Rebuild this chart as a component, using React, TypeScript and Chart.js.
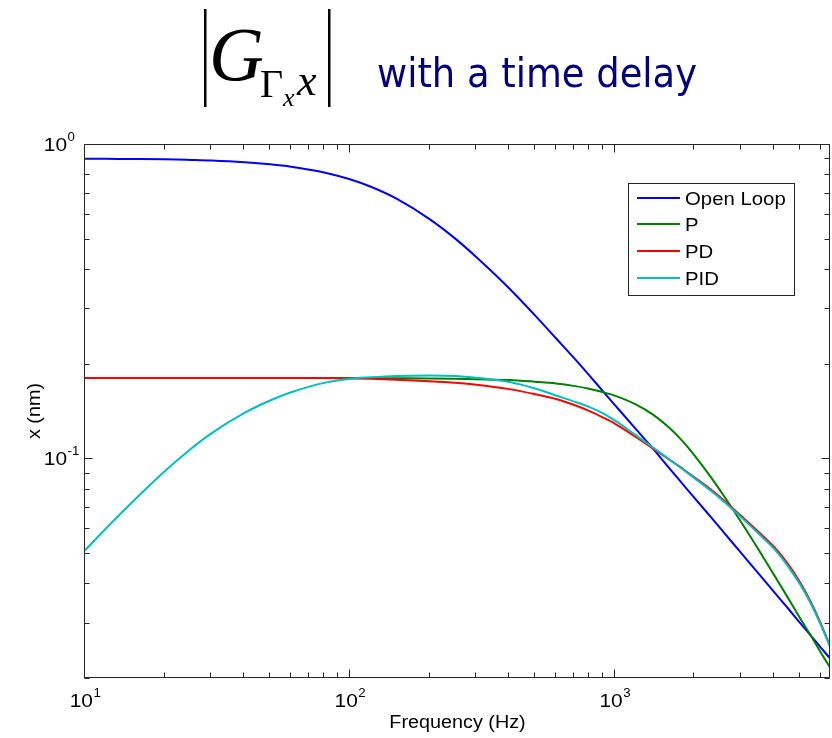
import React, { useEffect, useRef } from "react";
import { Chart, registerables } from "chart.js";
Chart.register(...registerables);

// ---- data ----
const freqs = [10, 12, 15, 20, 25, 30, 40, 50, 60, 80, 100, 120, 150, 200, 250, 300, 400, 500, 600, 700, 800, 900, 1000, 1200, 1400, 1600, 1800, 2000, 2300, 2600, 3000, 3500, 4000, 4500, 5000, 5500, 6000, 6500];
const openLoop = [0.898, 0.897, 0.896, 0.894, 0.890, 0.886, 0.875, 0.862, 0.847, 0.812, 0.772, 0.731, 0.670, 0.577, 0.500, 0.437, 0.347, 0.285, 0.241, 0.209, 0.184, 0.164, 0.148, 0.124, 0.107, 0.0934, 0.0831, 0.0748, 0.0652, 0.0577, 0.0500, 0.0429, 0.0375, 0.0334, 0.0300, 0.0273, 0.0250, 0.0231];
const pCtrl = [0.180, 0.180, 0.180, 0.180, 0.180, 0.180, 0.180, 0.180, 0.180, 0.180, 0.180, 0.180, 0.1798, 0.1795, 0.179, 0.1785, 0.1775, 0.1752, 0.1730, 0.1700, 0.1665, 0.1625, 0.1583, 0.1485, 0.1375, 0.1255, 0.1136, 0.1022, 0.0874, 0.0753, 0.0627, 0.0511, 0.0425, 0.0361, 0.0311, 0.0273, 0.0241, 0.0216];
const pdCtrl = [0.180, 0.180, 0.180, 0.180, 0.180, 0.180, 0.180, 0.180, 0.180, 0.180, 0.1795, 0.179, 0.1778, 0.1758, 0.1738, 0.1715, 0.1660, 0.1600, 0.1545, 0.1480, 0.1415, 0.1350, 0.1290, 0.1170, 0.1072, 0.0993, 0.0928, 0.0870, 0.0797, 0.0732, 0.0656, 0.0582, 0.0522, 0.0462, 0.0404, 0.0349, 0.0298, 0.0253];
const pidCtrl = [0.051, 0.0598, 0.0722, 0.0909, 0.1068, 0.1200, 0.1394, 0.1527, 0.1622, 0.1738, 0.1790, 0.1810, 0.1828, 0.1835, 0.1828, 0.1805, 0.1748, 0.1668, 0.1585, 0.1518, 0.1458, 0.1392, 0.1320, 0.1185, 0.1080, 0.0995, 0.0925, 0.0865, 0.0790, 0.0725, 0.0650, 0.0575, 0.0515, 0.0455, 0.0398, 0.0345, 0.0295, 0.0252];

const seriesNames = ["Open Loop", "P", "PD", "PID"];
const seriesColors = ["#0000ff", "#008000", "#ff0000", "#00bfbf"];
const xTickDecades = [10, 100, 1000];
const yTickDecades = [1, 0.1];
const xMin = 10;
const xMax = 6500;
const yMin = 0.02;
const yMax = 1;
const titleText = "with a time delay";
const xAxisLabel = "Frequency (Hz)";
const yAxisLabel = "x (nm)";

const SANS = '"Liberation Sans", Arial, Helvetica, sans-serif';
const SERIF = '"Liberation Serif", "Times New Roman", serif';
const SX = 1.1;
const AXIS_COLOR = "#262626";

function txt(ctx: CanvasRenderingContext2D, s: string, x: number, y: number, font: string, align: CanvasTextAlign = "left", color = "#000", sx = SX) {
  ctx.save();
  ctx.font = font;
  ctx.fillStyle = color;
  ctx.textAlign = align;
  ctx.textBaseline = "alphabetic";
  ctx.translate(x, y);
  ctx.scale(sx, 1);
  ctx.fillText(s, 0, 0);
  ctx.restore();
}

function measure(ctx: CanvasRenderingContext2D, s: string, font: string) {
  ctx.save();
  ctx.font = font;
  const w = ctx.measureText(s).width;
  ctx.restore();
  return w;
}

const BASE_FONT = `19px ${SANS}`;
const EXP_FONT = `12px ${SANS}`;

function minorValues(lo: number, hi: number) {
  const out: { v: number; major: boolean }[] = [];
  const minD = Math.floor(Math.log10(lo));
  const maxD = Math.ceil(Math.log10(hi));
  for (let d = minD; d <= maxD; d++) {
    for (let k = 1; k <= 9; k++) {
      const v = k * Math.pow(10, d);
      if (v >= lo * 0.9999 && v <= hi * 1.0001) out.push({ v, major: k === 1 });
    }
  }
  return out;
}

const decor = {
  id: "decor",
  afterDraw(chart: any) {
    const ctx: CanvasRenderingContext2D = chart.ctx;
    const a = chart.chartArea;
    const xs = chart.scales.x;
    const ys = chart.scales.y;
    ctx.save();

    // frame
    const L = Math.round(a.left) - 0.5;
    const R = Math.round(a.right) - 0.5;
    const T = Math.round(a.top) + 0.5;
    const B = Math.round(a.bottom) - 0.5;
    ctx.strokeStyle = AXIS_COLOR;
    ctx.lineWidth = 1;
    ctx.strokeRect(L, T, R - L, B - T);

    // ticks
    ctx.beginPath();
    for (const t of minorValues(xMin, xMax)) {
      const px = Math.round(xs.getPixelForValue(t.v)) - 0.5;
      const len = t.major ? 8 : 5;
      ctx.moveTo(px, B);
      ctx.lineTo(px, B - len);
      ctx.moveTo(px, T);
      ctx.lineTo(px, T + len);
    }
    for (const t of minorValues(yMin, yMax)) {
      const py = Math.round(ys.getPixelForValue(t.v)) + 0.5;
      const len = t.major ? 8 : 5;
      ctx.moveTo(L, py);
      ctx.lineTo(L + len, py);
      ctx.moveTo(R, py);
      ctx.lineTo(R - len, py);
    }
    ctx.stroke();

    // x tick labels
    for (const d of xTickDecades) {
      const px = xs.getPixelForValue(d);
      const e = String(Math.round(Math.log10(d)));
      const wb = measure(ctx, "10", BASE_FONT) * SX;
      const we = measure(ctx, e, EXP_FONT) * SX;
      const start = px - (wb + we) / 2;
      txt(ctx, "10", start, a.bottom + 29, BASE_FONT);
      txt(ctx, e, start + wb + 0.5, a.bottom + 19, EXP_FONT);
    }
    // y tick labels
    for (const d of yTickDecades) {
      const py = ys.getPixelForValue(d);
      const e = String(Math.round(Math.log10(d)));
      txt(ctx, "10", a.left - 18, py + 7, BASE_FONT, "right");
      txt(ctx, e, a.left - 17.5, py - 3, EXP_FONT, "left");
    }

    // axis labels
    txt(ctx, xAxisLabel, (a.left + a.right) / 2, a.bottom + 50, `18px ${SANS}`, "center");
    ctx.save();
    ctx.translate(40, (a.top + a.bottom) / 2);
    ctx.rotate(-Math.PI / 2);
    txt(ctx, yAxisLabel, 0, 0, `18px ${SANS}`, "center");
    ctx.restore();

    // legend
    const lx = 628, ly = 183, lw = 166, lh = 112;
    ctx.fillStyle = "#fff";
    ctx.fillRect(lx, ly, lw, lh);
    ctx.strokeStyle = AXIS_COLOR;
    ctx.lineWidth = 1;
    ctx.strokeRect(lx + 0.5, ly + 0.5, lw, lh);
    seriesNames.forEach((name, i) => {
      const ry = 197.5 + i * 26.8;
      ctx.strokeStyle = seriesColors[i];
      ctx.lineWidth = 2;
      ctx.beginPath();
      ctx.moveTo(637, Math.round(ry));
      ctx.lineTo(680, Math.round(ry));
      ctx.stroke();
      txt(ctx, name, 685, ry + 7, `18.5px ${SANS}`);
    });

    // title
    ctx.fillStyle = "#000";
    ctx.fillRect(204, 9, 2.5, 98);
    ctx.fillRect(328, 9, 2.5, 98);
    txt(ctx, "G", 209, 80, `italic 76px ${SERIF}`, "left", "#000", 1);
    txt(ctx, "Γ", 260, 97, `40px ${SERIF}`, "left", "#000", 1);
    txt(ctx, "x", 283, 106, `italic 26px ${SERIF}`, "left", "#000", 1);
    txt(ctx, "x", 297, 95, `italic 44px ${SERIF}`, "left", "#000", 1);
    const tf = `40px "DejaVu Sans", Verdana, sans-serif`;
    const tw = measure(ctx, titleText, tf);
    txt(ctx, titleText, 377, 87, tf, "left", "#000080", 320 / tw);

    ctx.restore();
  },
};

const whiteBg = {
  id: "whiteBg",
  beforeDraw(chart: any) {
    const ctx = chart.ctx;
    ctx.save();
    ctx.fillStyle = "#fff";
    ctx.fillRect(0, 0, chart.width, chart.height);
    ctx.restore();
  },
};

export default function App() {
  const ref = useRef<HTMLCanvasElement>(null);
  useEffect(() => {
    const canvas = ref.current!;
    const all = [openLoop, pCtrl, pdCtrl, pidCtrl];
    const chart = new Chart(canvas, {
      type: "line",
      data: {
        datasets: all.map((vals, i) => ({
          label: seriesNames[i],
          data: freqs.map((f, j) => ({ x: f, y: vals[j] })),
          borderColor: seriesColors[i],
          backgroundColor: seriesColors[i],
          borderWidth: 2,
          pointRadius: 0,
          fill: false,
          cubicInterpolationMode: "monotone" as const,
          order: 4 - i,
        })),
      },
      options: {
        responsive: false,
        animation: false,
        events: [],
        layout: { padding: { left: 85, top: 144, right: 2, bottom: 60 } },
        scales: {
          x: { type: "logarithmic", min: xMin, max: xMax, display: false },
          y: { type: "logarithmic", min: yMin, max: yMax, display: false },
        },
        plugins: { legend: { display: false }, tooltip: { enabled: false } },
      },
      plugins: [whiteBg, decor],
    } as any);
    return () => chart.destroy();
  }, []);
  return (
    <div style={{ position: "fixed", left: 0, top: 0, width: 832, height: 738, background: "#fff" }}>
      <canvas ref={ref} width={832} height={738} style={{ display: "block", width: 832, height: 738 }} />
    </div>
  );
}
